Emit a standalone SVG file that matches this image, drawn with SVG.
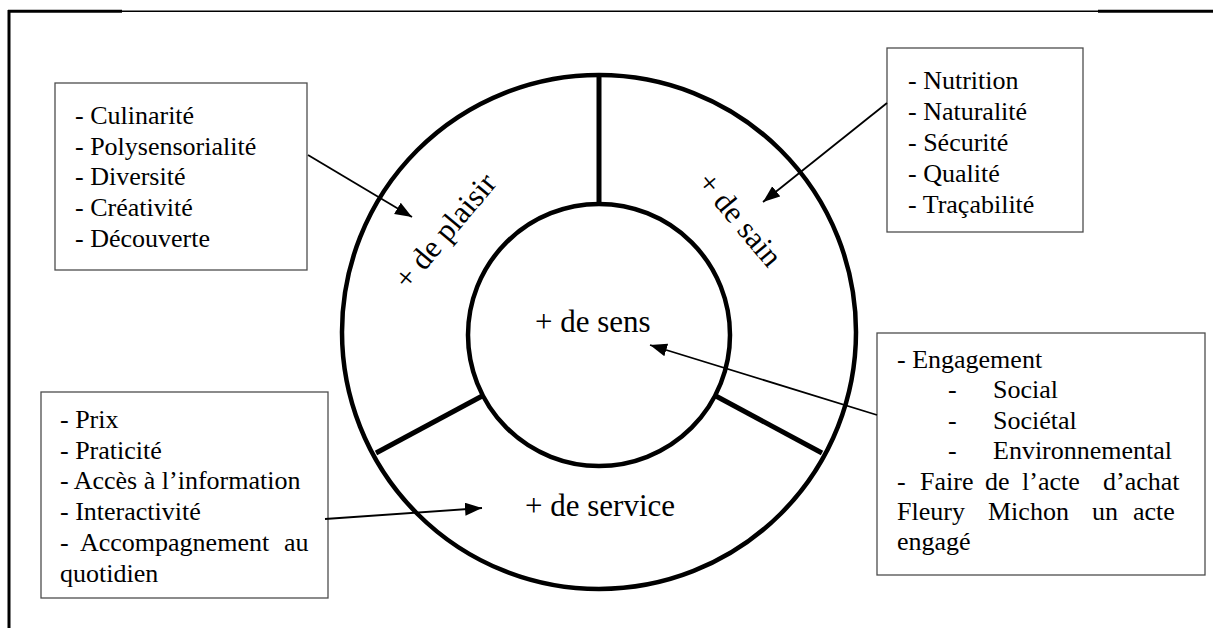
<svg xmlns="http://www.w3.org/2000/svg" width="1213" height="628" viewBox="0 0 1213 628">
<defs>
<marker id="ah" markerUnits="userSpaceOnUse" markerWidth="18" markerHeight="14" refX="17" refY="6.5" orient="auto">
<path d="M0,0 L17,6.5 L0,13 z" fill="#000"/>
</marker>
</defs>
<rect width="1213" height="628" fill="#fff"/>
<g id="frame">
<line x1="8" y1="11.3" x2="122" y2="11.3" stroke="#000" stroke-width="3"/>
<line x1="122" y1="11.3" x2="1098" y2="11.3" stroke="#000" stroke-width="1.6"/>
<line x1="1098" y1="11.3" x2="1213" y2="11.3" stroke="#000" stroke-width="3"/>
<line x1="9" y1="10" x2="9" y2="628" stroke="#000" stroke-width="3"/>
</g>
<g id="wheel">
<circle cx="599" cy="332" r="257" fill="none" stroke="#000" stroke-width="4.5"/>
<circle cx="599" cy="335" r="131" fill="none" stroke="#000" stroke-width="4.5"/>
<line x1="599" y1="75" x2="599" y2="204" stroke="#000" stroke-width="5"/>
<line x1="376" y1="453" x2="484" y2="395" stroke="#000" stroke-width="5"/>
<line x1="822" y1="453" x2="714" y2="395" stroke="#000" stroke-width="5"/>
<text transform="translate(408,291) rotate(-50)" font-family="'Liberation Serif', serif" font-size="31">+ de plaisir</text>
<text transform="translate(696,183) rotate(50)" font-family="'Liberation Serif', serif" font-size="31">+ de sain</text>
<text x="535" y="332" font-family="'Liberation Serif', serif" font-size="31">+ de sens</text>
<text x="525" y="516" font-family="'Liberation Serif', serif" font-size="31">+ de service</text>
</g>
<g id="box-plaisir">
<rect x="55" y="83" width="252" height="187" fill="#fff" stroke="#4d4d4d" stroke-width="1.3"/>
<text x="75" y="124" font-family="'Liberation Serif', serif" font-size="26">- Culinarité</text>
<text x="75" y="154.7" font-family="'Liberation Serif', serif" font-size="26">- Polysensorialité</text>
<text x="75" y="185.4" font-family="'Liberation Serif', serif" font-size="26">- Diversité</text>
<text x="75" y="216.1" font-family="'Liberation Serif', serif" font-size="26">- Créativité</text>
<text x="75" y="246.8" font-family="'Liberation Serif', serif" font-size="26">- Découverte</text>
</g>
<g id="box-sain">
<rect x="887" y="48" width="196" height="184" fill="#fff" stroke="#4d4d4d" stroke-width="1.3"/>
<text x="908" y="89" font-family="'Liberation Serif', serif" font-size="26">- Nutrition</text>
<text x="908" y="120" font-family="'Liberation Serif', serif" font-size="26">- Naturalité</text>
<text x="908" y="151" font-family="'Liberation Serif', serif" font-size="26">- Sécurité</text>
<text x="908" y="182" font-family="'Liberation Serif', serif" font-size="26">- Qualité</text>
<text x="908" y="213" font-family="'Liberation Serif', serif" font-size="26">- Traçabilité</text>
</g>
<g id="box-service">
<rect x="41" y="392" width="287" height="206" fill="#fff" stroke="#4d4d4d" stroke-width="1.3"/>
<text x="60" y="428" font-family="'Liberation Serif', serif" font-size="26">- Prix</text>
<text x="60" y="458.7" font-family="'Liberation Serif', serif" font-size="26">- Praticité</text>
<text x="60" y="489.4" font-family="'Liberation Serif', serif" font-size="26">- Accès à l’information</text>
<text x="60" y="520.1" font-family="'Liberation Serif', serif" font-size="26">- Interactivité</text>
<text y="550.8" font-family="'Liberation Serif', serif" font-size="26"><tspan x="60">-</tspan><tspan x="80">Accompagnement</tspan><tspan x="284">au</tspan></text>
<text x="60" y="581.5" font-family="'Liberation Serif', serif" font-size="26">quotidien</text>
</g>
<g id="box-sens">
<rect x="877" y="333" width="328" height="242" fill="#fff" stroke="#4d4d4d" stroke-width="1.3"/>
<text x="897" y="368" font-family="'Liberation Serif', serif" font-size="26">- Engagement</text>
<text y="398.4" font-family="'Liberation Serif', serif" font-size="26"><tspan x="948">-</tspan><tspan x="993">Social</tspan></text>
<text y="428.8" font-family="'Liberation Serif', serif" font-size="26"><tspan x="948">-</tspan><tspan x="993">Sociétal</tspan></text>
<text y="459.2" font-family="'Liberation Serif', serif" font-size="26"><tspan x="948">-</tspan><tspan x="993">Environnemental</tspan></text>
<text y="489.6" font-family="'Liberation Serif', serif" font-size="26"><tspan x="897">-</tspan><tspan x="920">Faire</tspan><tspan x="985">de</tspan><tspan x="1022">l’acte</tspan><tspan x="1103">d’achat</tspan></text>
<text y="520" font-family="'Liberation Serif', serif" font-size="26"><tspan x="897">Fleury</tspan><tspan x="988">Michon</tspan><tspan x="1092">un</tspan><tspan x="1133">acte</tspan></text>
<text x="897" y="550.4" font-family="'Liberation Serif', serif" font-size="26">engagé</text>
</g>
<g id="connectors">
<line x1="308" y1="155" x2="412" y2="217" stroke="#000" stroke-width="1.8" marker-end="url(#ah)"/>
<line x1="887" y1="103" x2="763" y2="202" stroke="#000" stroke-width="1.8" marker-end="url(#ah)"/>
<line x1="877" y1="415" x2="650" y2="345" stroke="#000" stroke-width="1.8" marker-end="url(#ah)"/>
<line x1="325" y1="519" x2="482" y2="508" stroke="#000" stroke-width="1.8" marker-end="url(#ah)"/>
</g>
</svg>
